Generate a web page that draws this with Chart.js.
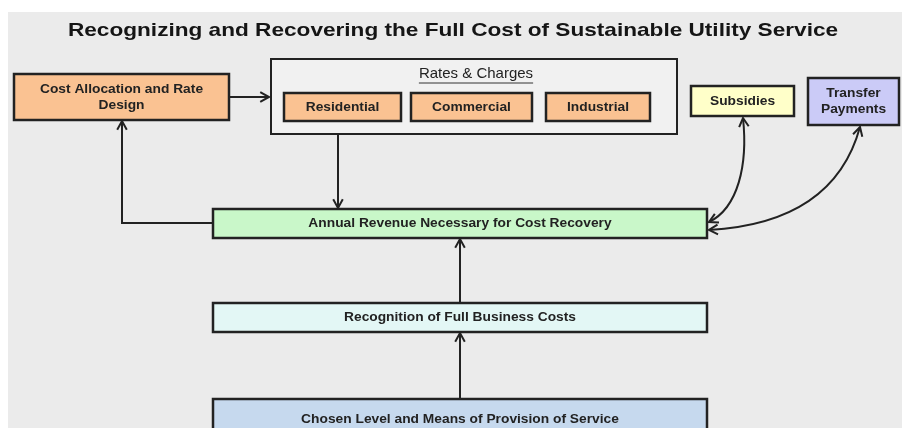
<!DOCTYPE html>
<html>
<head>
<meta charset="utf-8">
<script src="https://cdn.jsdelivr.net/npm/chart.js@4/dist/chart.umd.min.js"></script>
<style>
    html, body { margin: 0; padding: 0; background: #fff; }
    #wrap { width: 902px; height: 428px; position: relative; }
</style>
</head>
<body>
<div id="wrap"><canvas id="diagram"></canvas></div>
<script>
// Заголовок и подписи блоков
const chartTitle = 'Recognizing and Recovering the Full Cost of Sustainable Utility Service';

const nodeLabels = [
    ['Cost Allocation and Rate', 'Design'],
    ['Rates & Charges'],
    ['Residential'],
    ['Commercial'],
    ['Industrial'],
    ['Subsidies'],
    ['Transfer', 'Payments'],
    ['Annual Revenue Necessary for Cost Recovery'],
    ['Recognition of Full Business Costs'],
    ['Chosen Level and Means of Provision of Service']
];

// Границы блоков в координатах схемы: [x0, y0, x1, y1]
const nodeBounds = [
    [14, 74, 229, 120],
    [271, 59, 677, 134],
    [284, 93, 401, 121],
    [411, 93, 532, 121],
    [546, 93, 650, 121],
    [691, 86, 794, 116],
    [808, 78, 899, 125],
    [213, 209, 707, 238],
    [213, 303, 707, 332],
    [213, 399, 707, 440]
];

const nodeFills = ['#fac292', '#f1f1f1', '#fac292', '#fac292', '#fac292',
    '#ffffc9', '#cbcbf7', '#c9f7c9', '#e3f7f5', '#c6d9ee'];

// Прямые соединители (ломаные), стрелка на конце
const straightLinks = [
    [[229, 97], [269, 97]],
    [[338, 134], [338, 208]],
    [[213, 223], [122, 223], [122, 121]],
    [[460, 303], [460, 239]],
    [[460, 399], [460, 333]]
];

// Изогнутые двусторонние стрелки: начало, контрольные точки, конец
const curvedLinks = [
    [[743, 118], [748, 165], [738, 208], [709, 222]],
    [[860, 127], [840, 200], [780, 226], [709, 230]]
];

const ink = '#222';

// текст с горизонтальным растяжением (исходная картинка немного растянута)
function stretchedText(ctx, text, x, y, sx) {
    ctx.save();
    ctx.translate(x, y);
    ctx.scale(sx, 1);
    ctx.fillText(text, 0, 0);
    ctx.restore();
}

const diagramPlugin = {
    id: 'diagram',
    beforeDraw(chart) {
        const { ctx } = chart;
        const xs = chart.scales.x, ys = chart.scales.y;
        const px = v => xs.getPixelForValue(v);
        const py = v => ys.getPixelForValue(v);

        // фон
        ctx.save();
        ctx.fillStyle = '#ffffff';
        ctx.fillRect(0, 0, chart.width, chart.height);
        ctx.fillStyle = '#ebebeb';
        ctx.fillRect(px(8), py(12), px(902) - px(8), py(428) - py(12));

        // заголовок
        ctx.fillStyle = '#151515';
        ctx.font = 'bold 19px "Liberation Sans", Arial, sans-serif';
        ctx.textAlign = 'center';
        ctx.textBaseline = 'middle';
        stretchedText(ctx, chartTitle, px(453), py(31), 1.19);

        // блоки
        nodeBounds.forEach((b, i) => {
            const x0 = px(b[0]), y0 = py(b[1]), x1 = px(b[2]), y1 = py(b[3]);
            ctx.fillStyle = nodeFills[i];
            ctx.fillRect(x0, y0, x1 - x0, y1 - y0);
            ctx.lineWidth = i === 1 ? 2 : 2.5;
            ctx.strokeStyle = ink;
            ctx.strokeRect(x0, y0, x1 - x0, y1 - y0);

            const lines = nodeLabels[i];
            const cx = (x0 + x1) / 2;
            ctx.fillStyle = '#222';
            if (i === 1) {
                // заголовок группы с подчёркиванием
                ctx.font = '15px "Liberation Sans", Arial, sans-serif';
                const ty = py(74);
                ctx.fillText(lines[0], cx + 2, ty);
                const w = ctx.measureText(lines[0]).width;
                ctx.lineWidth = 1;
                ctx.strokeStyle = '#333';
                ctx.beginPath();
                ctx.moveTo(cx + 2 - w / 2, ty + 9);
                ctx.lineTo(cx + 2 + w / 2, ty + 9);
                ctx.stroke();
                return;
            }
            ctx.font = 'bold 13px "Liberation Sans", Arial, sans-serif';
            const cy = (y0 + y1) / 2;
            const lh = 16;
            lines.forEach((t, k) => {
                stretchedText(ctx, t, cx, cy + (k - (lines.length - 1) / 2) * lh, 1.06);
            });
        });

        ctx.strokeStyle = ink;
        ctx.lineWidth = 2;
        ctx.lineJoin = 'miter';

        const head = (tx, ty, dx, dy) => {
            const a = Math.atan2(dy, dx);
            const L = 10, s = 0.5;
            ctx.beginPath();
            ctx.moveTo(tx - L * Math.cos(a - s), ty - L * Math.sin(a - s));
            ctx.lineTo(tx, ty);
            ctx.lineTo(tx - L * Math.cos(a + s), ty - L * Math.sin(a + s));
            ctx.stroke();
        };

        straightLinks.forEach(pts => {
            ctx.beginPath();
            pts.forEach((p, k) => {
                if (k === 0) ctx.moveTo(px(p[0]), py(p[1]));
                else ctx.lineTo(px(p[0]), py(p[1]));
            });
            ctx.stroke();
            const e = pts[pts.length - 1], f = pts[pts.length - 2];
            head(px(e[0]), py(e[1]), px(e[0]) - px(f[0]), py(e[1]) - py(f[1]));
        });

        curvedLinks.forEach(c => {
            const p = c.map(q => [px(q[0]), py(q[1])]);
            ctx.beginPath();
            ctx.moveTo(p[0][0], p[0][1]);
            ctx.bezierCurveTo(p[1][0], p[1][1], p[2][0], p[2][1], p[3][0], p[3][1]);
            ctx.stroke();
            head(p[0][0], p[0][1], p[0][0] - p[1][0], p[0][1] - p[1][1]);
            head(p[3][0], p[3][1], p[3][0] - p[2][0], p[3][1] - p[2][1]);
        });
        ctx.restore();
    }
};

new Chart(document.getElementById('diagram'), {
    type: 'scatter',
    data: { datasets: [{ data: [], pointRadius: 0 }] },
    options: {
        responsive: true,
        maintainAspectRatio: false,
        animation: false,
        events: [],
        layout: { padding: 0 },
        plugins: { legend: { display: false }, tooltip: { enabled: false } },
        scales: {
            x: { type: 'linear', min: 0, max: 902, display: false },
            y: { type: 'linear', min: 0, max: 428, reverse: true, display: false }
        }
    },
    plugins: [diagramPlugin]
});
</script>
</body>
</html>
